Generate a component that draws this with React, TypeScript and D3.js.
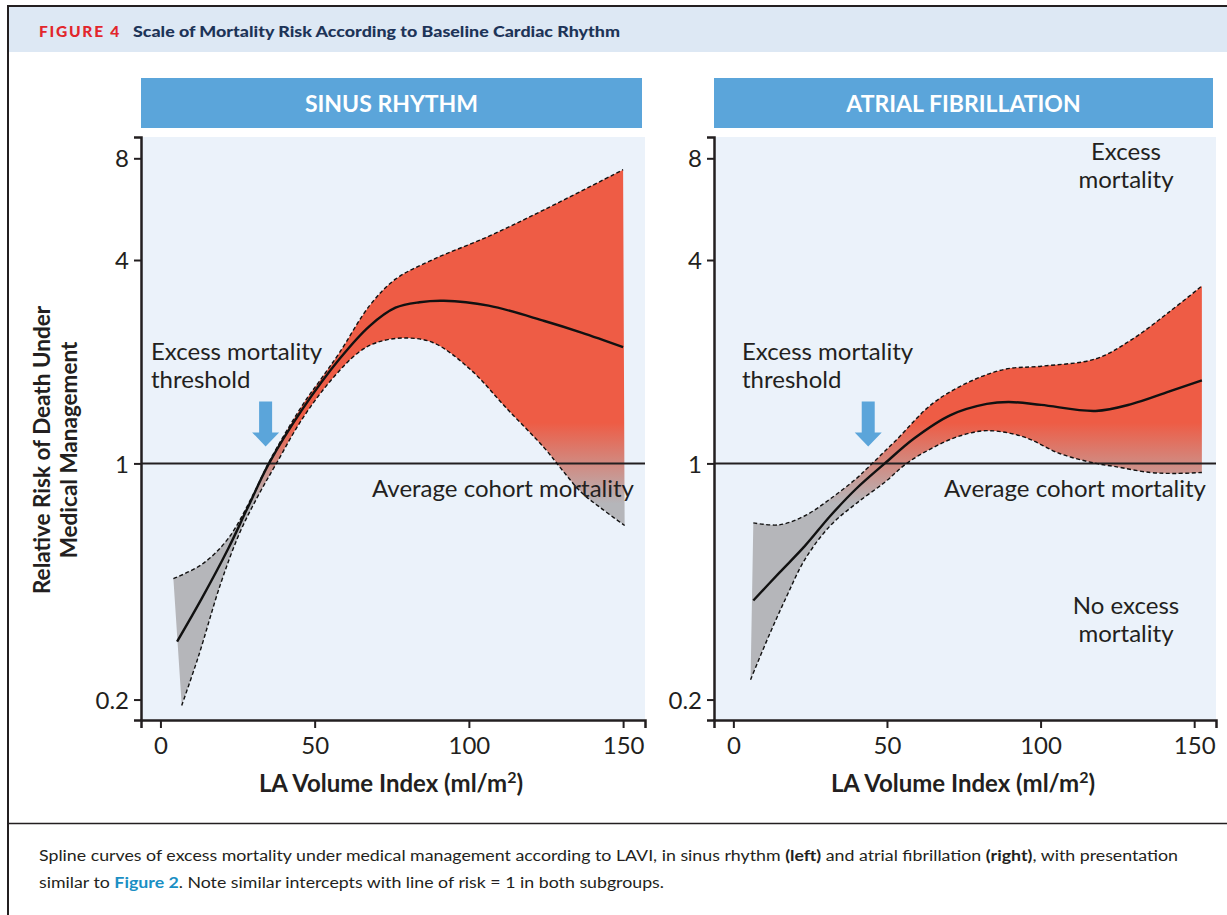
import React, { useEffect, useRef } from 'react';
import * as d3 from 'd3';

// axis ticks
const xTicks = [0, 50, 100, 150];
const yTicks = [0.2, 1, 4, 8];

const panelTitles = ['SINUS RHYTHM', 'ATRIAL FIBRILLATION'];

// sinus rhythm spline (LAVI, relative risk)
const sinusCenter = [
  [5.4, 0.297], [13.5, 0.4], [22, 0.56], [28, 0.73], [35.2, 1.0], [46.1, 1.45],
  [58.1, 2.04], [67.8, 2.55], [76.2, 2.89], [84, 3.0], [91.9, 3.03], [106.4, 2.93],
  [124.5, 2.64], [136.5, 2.44], [150, 2.21],
];
const sinusUpper = [
  [4.2, 0.456], [13.5, 0.503], [22, 0.6], [30.4, 0.82], [35.2, 1.01], [46.1, 1.49],
  [52.1, 1.78], [58.1, 2.13], [67.8, 2.93], [76.2, 3.51], [88.3, 4.01], [106.4, 4.7],
  [124.5, 5.64], [150, 7.4],
];
const sinusLower = [
  [6.9, 0.192], [12.3, 0.268], [19.5, 0.44], [25.6, 0.62], [31.6, 0.8], [37.6, 1.0],
  [46.1, 1.36], [55.7, 1.78], [64.2, 2.13], [70.2, 2.28], [78.6, 2.35], [88.3, 2.28],
  [100.4, 1.9], [112.4, 1.45], [124.5, 1.11], [130.5, 0.95], [136.5, 0.82],
  [142.6, 0.74], [150.5, 0.655],
];

// atrial fibrillation spline
const afCenter = [
  [6.5, 0.393], [15, 0.475], [23.3, 0.57], [31.6, 0.7], [39.9, 0.84], [49.3, 1.0],
  [58.8, 1.185], [70.7, 1.39], [82.5, 1.5], [89.6, 1.52], [100.2, 1.49], [117.9, 1.43],
  [129.8, 1.5], [141.7, 1.63], [152.5, 1.76],
];
const afUpper = [
  [6.5, 0.667], [15, 0.658], [23.3, 0.7], [31.6, 0.786], [39.9, 0.9], [43.7, 0.97],
  [52.9, 1.17], [64.7, 1.5], [76.6, 1.74], [88.4, 1.9], [100.2, 1.94], [118, 2.04],
  [129.8, 2.33], [141.7, 2.8], [152.5, 3.35],
];
const afLower = [
  [5.6, 0.229], [11.5, 0.308], [17.4, 0.405], [23.3, 0.52], [31.6, 0.655], [39.9, 0.76],
  [49.3, 0.88], [56.4, 1.0], [64.7, 1.11], [73, 1.2], [82.5, 1.25], [94.3, 1.2],
  [106.2, 1.07], [118, 1.0], [123.9, 0.98], [135.7, 0.94], [144, 0.934], [152.5, 0.94],
];

// where the arrows point (threshold crossing)
const thresholdX = [34.1, 43.9];

const App = () => {
  const svgRef = useRef<SVGSVGElement>(null);

  const colors = {
    frame: '#231f20',
    headerBand: '#dde8f4',
    figRed: '#e2262c',
    navy: '#1d3458',
    panelBlue: '#5ba5da',
    plotBg: '#ebf2fa',
    red: '#ee5c45',
    gray: '#b5b6ba',
    text: '#231f20',
    link: '#1a8fc4',
  };
  const font = 'Lato, "Open Sans", sans-serif';
  const fs = 24;

  useEffect(() => {
    if (!svgRef.current) return;
    const svg = d3.select(svgRef.current);
    svg.selectAll('*').remove();

    // frame + header band
    svg.append('rect').attr('x', 8).attr('y', 7).attr('width', 1230).attr('height', 45)
      .attr('fill', colors.headerBand);
    svg.append('path').attr('d', 'M8,920 V6 H1240').attr('fill', 'none')
      .attr('stroke', colors.frame).attr('stroke-width', 2);
    svg.append('line').attr('x1', 8).attr('x2', 1240).attr('y1', 823.5).attr('y2', 823.5)
      .attr('stroke', colors.frame).attr('stroke-width', 1.5);

    svg.append('text').attr('x', 39).attr('y', 37).attr('font-family', font)
      .attr('font-weight', 900).attr('font-size', 14.5).attr('letter-spacing', 1.6)
      .attr('fill', colors.figRed)
      .attr('textLength', 82).attr('lengthAdjust', 'spacingAndGlyphs').text('FIGURE 4');
    svg.append('text').attr('x', 133).attr('y', 37).attr('font-family', font)
      .attr('font-weight', 900).attr('font-size', 15.5).attr('fill', colors.navy)
      .attr('textLength', 487).attr('lengthAdjust', 'spacingAndGlyphs')
      .text('Scale of Mortality Risk According to Baseline Cardiac Rhythm');

    const y = d3.scaleLog().domain([0.174, 9.25]).range([720, 137]);

    const defs = svg.append('defs');

    const panels = [
      { left: 141, right: 645, center: sinusCenter, upper: sinusUpper, lower: sinusLower, threshX: 151, avgEnd: 634 },
      { left: 714, right: 1216, center: afCenter, upper: afUpper, lower: afLower, threshX: 742, avgEnd: 1206 },
    ];

    panels.forEach((p, i) => {
      const x = d3.scaleLinear().domain([-6.3, 157.1]).range([p.left, p.right]);
      const g = svg.append('g');

      // panel title bar
      g.append('rect').attr('x', p.left).attr('y', 78).attr('width', p.right - p.left - 3)
        .attr('height', 50).attr('fill', colors.panelBlue);
      g.append('text').attr('x', (p.left + p.right - 3) / 2).attr('y', 112)
        .attr('text-anchor', 'middle').attr('font-family', font).attr('font-weight', 700)
        .attr('font-size', 23).attr('fill', '#fff').text(panelTitles[i]);

      // plot background
      g.append('rect').attr('x', p.left).attr('y', 137).attr('width', p.right - p.left)
        .attr('height', 720 - 137).attr('fill', colors.plotBg);

      // gradient red -> gray around risk = 1
      const grad = defs.append('linearGradient').attr('id', `band-grad-${i}`)
        .attr('gradientUnits', 'userSpaceOnUse')
        .attr('x1', 0).attr('x2', 0).attr('y1', y(1.32)).attr('y2', y(0.76));
      grad.append('stop').attr('offset', '0%').attr('stop-color', colors.red);
      grad.append('stop').attr('offset', '100%').attr('stop-color', colors.gray);

      const line = d3.line<number[]>()
        .x(d => x(d[0]))
        .y(d => y(d[1]))
        .curve(d3.curveCatmullRom.alpha(0.5));

      // confidence band: upper forward, lower reversed
      const upperPath = line(p.upper) as string;
      const lowerRev = line([...p.lower].reverse()) as string;
      g.append('path')
        .attr('d', upperPath + 'L' + lowerRev.slice(1) + 'Z')
        .attr('fill', `url(#band-grad-${i})`);

      // risk = 1 reference
      g.append('line').attr('x1', p.left).attr('x2', p.right).attr('y1', y(1)).attr('y2', y(1))
        .attr('stroke', colors.text).attr('stroke-width', 2);

      // dashed CI lines
      [p.upper, p.lower].forEach(arr => {
        g.append('path').datum(arr).attr('d', line).attr('fill', 'none')
          .attr('stroke', '#111').attr('stroke-width', 1.4).attr('stroke-dasharray', '4,2.5');
      });
      // spline estimate
      g.append('path').datum(p.center).attr('d', line).attr('fill', 'none')
        .attr('stroke', '#111').attr('stroke-width', 2.4);

      // axes
      const yAxis = g.append('g').attr('transform', `translate(${p.left},0)`)
        .call(d3.axisLeft(y).tickValues(yTicks).tickFormat(d => String(d))
          .tickSizeOuter(0).tickSize(7).tickPadding(5));
      const xAxis = g.append('g').attr('transform', 'translate(0,720)')
        .call(d3.axisBottom(x).tickValues(xTicks).tickFormat(d => String(d))
          .tickSizeOuter(0).tickSize(8).tickPadding(9));
      [yAxis, xAxis].forEach(ax => {
        ax.select('.domain').attr('stroke', colors.text).attr('stroke-width', 2.5);
        ax.selectAll('.tick line').attr('stroke', colors.text).attr('stroke-width', 2);
        ax.selectAll('.tick text').attr('font-family', font).attr('font-size', fs)
          .attr('fill', colors.text);
      });
      yAxis.selectAll('.tick text').attr('dy', '0.36em');
      xAxis.selectAll('.tick text').attr('dy', '0.72em');

      // x title
      const xt = g.append('text').attr('x', (p.left + p.right) / 2 - 2).attr('y', 792)
        .attr('text-anchor', 'middle').attr('font-family', font).attr('font-weight', 700)
        .attr('font-size', fs).attr('fill', colors.text);
      xt.append('tspan').text('LA Volume Index (ml/m');
      xt.append('tspan').attr('font-size', 16).attr('dy', -9).text('2');
      xt.append('tspan').attr('dy', 9).text(')');

      // threshold annotation
      const tt = g.append('text').attr('font-family', font).attr('font-size', fs)
        .attr('fill', colors.text);
      tt.append('tspan').attr('x', p.threshX).attr('y', 360).text('Excess mortality');
      tt.append('tspan').attr('x', p.threshX).attr('y', 388).text('threshold');

      // arrow pointing down to the crossing
      const ax0 = x(thresholdX[i]);
      const tipY = y(1) - 17;
      g.append('path')
        .attr('d', `M${ax0 - 6.5},${tipY - 45} h13 v31 h7 L${ax0},${tipY} L${ax0 - 13.5},${tipY - 14} h7 Z`)
        .attr('fill', colors.panelBlue);

      g.append('text').attr('x', p.avgEnd).attr('y', 497).attr('text-anchor', 'end')
        .attr('font-family', font).attr('font-size', fs).attr('fill', colors.text)
        .text('Average cohort mortality');

      if (i === 1) {
        const cx = 1126;
        [['Excess', 160], ['mortality', 188], ['No excess', 614], ['mortality', 642]].forEach(([t, yy]) => {
          g.append('text').attr('x', cx).attr('y', yy as number).attr('text-anchor', 'middle')
            .attr('font-family', font).attr('font-size', fs).attr('fill', colors.text)
            .text(t as string);
        });
      }
    });

    // y axis title
    const yt = svg.append('text').attr('transform', 'translate(0,450) rotate(-90)')
      .attr('text-anchor', 'middle').attr('font-family', font).attr('font-weight', 700)
      .attr('font-size', 22.5).attr('fill', colors.text);
    yt.append('tspan').attr('x', 0).attr('y', 50).text('Relative Risk of Death Under');
    yt.append('tspan').attr('x', 0).attr('y', 77).text('Medical Management');

    // caption
    const c1 = svg.append('text').attr('x', 39).attr('y', 861).attr('font-family', font)
      .attr('font-size', 15.5).attr('fill', colors.text)
      .attr('textLength', 1139).attr('lengthAdjust', 'spacingAndGlyphs');
    c1.append('tspan').text('Spline curves of excess mortality under medical management according to LAVI, in sinus rhythm ');
    c1.append('tspan').attr('font-weight', 700).text('(left)');
    c1.append('tspan').text(' and atrial fibrillation ');
    c1.append('tspan').attr('font-weight', 700).text('(right)');
    c1.append('tspan').text(', with presentation');

    const c2 = svg.append('text').attr('x', 39).attr('y', 888).attr('font-family', font)
      .attr('font-size', 15.5).attr('fill', colors.text)
      .attr('textLength', 625).attr('lengthAdjust', 'spacingAndGlyphs');
    c2.append('tspan').text('similar to ');
    c2.append('tspan').attr('font-weight', 700).attr('fill', colors.link).text('Figure 2');
    c2.append('tspan').text('. Note similar intercepts with line of risk = 1 in both subgroups.');
  }, []);

  return (
    <svg ref={svgRef} width={1227} height={915}
      style={{ position: 'absolute', left: 0, top: 0, background: '#fff' }} />
  );
};

export default App;
